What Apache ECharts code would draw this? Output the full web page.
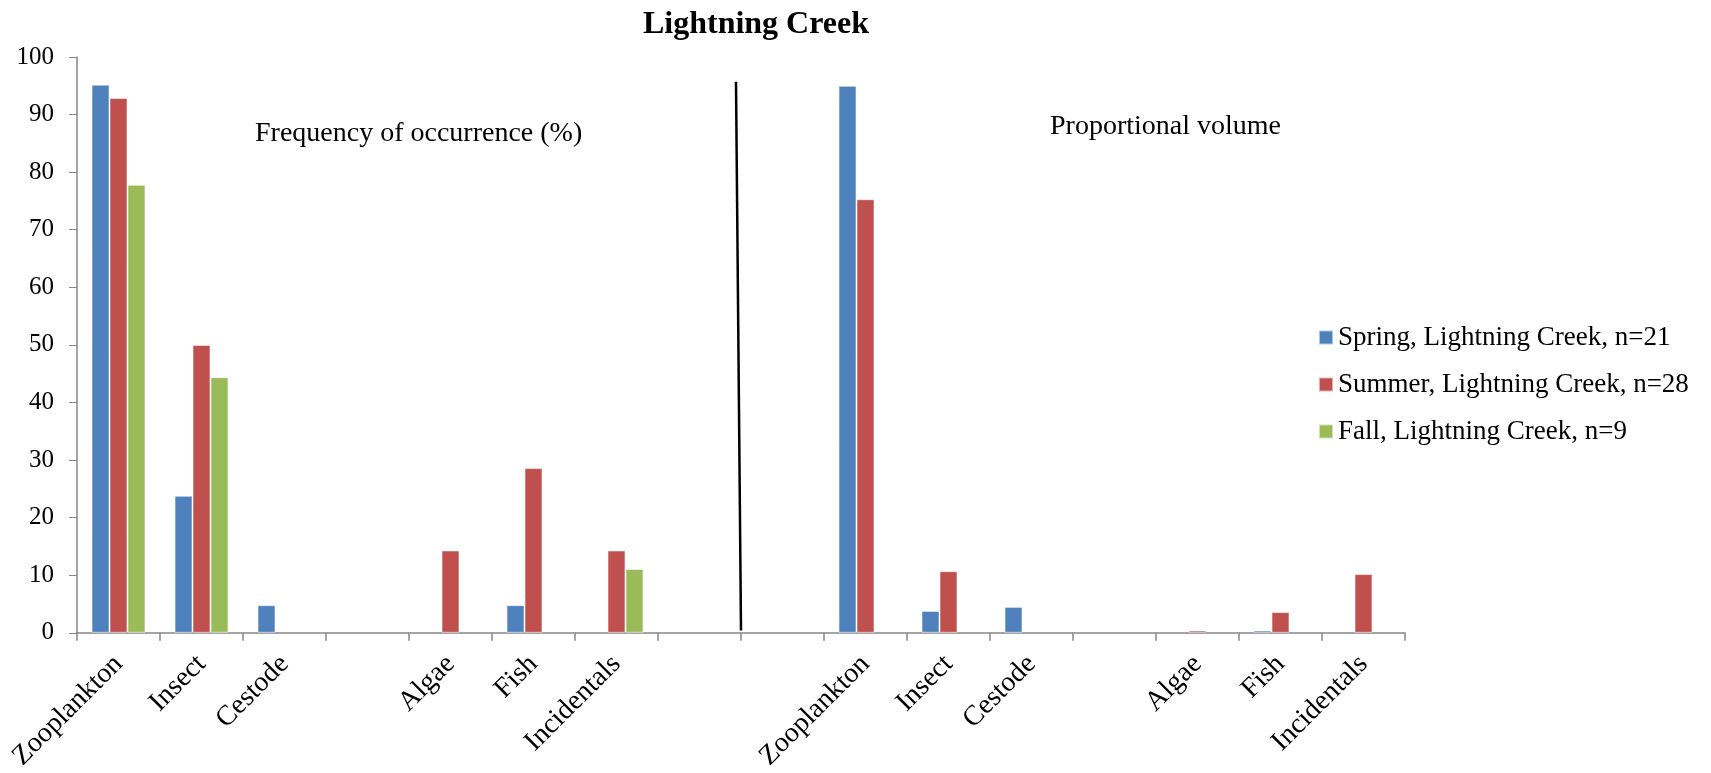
<!DOCTYPE html>
<html>
<head>
<meta charset="utf-8">
<title>Lightning Creek</title>
<script src="https://cdn.jsdelivr.net/npm/echarts@6/dist/echarts.min.js"></script>
<style>
  html, body { margin: 0; padding: 0; background: #fff; }
  #chart { width: 1711px; height: 773px; }
</style>
</head>
<body>
<div id="chart"></div>
<script>
// categories: left half = frequency of occurrence, right half = proportional volume
var categories = ['Zooplankton', 'Insect', 'Cestode', '', 'Algae', 'Fish', 'Incidentals', '', '',
  'Zooplankton', 'Insect', 'Cestode', '', 'Algae', 'Fish', 'Incidentals'];

var seriesNames = ['Spring, Lightning Creek, n=21', 'Summer, Lightning Creek, n=28', 'Fall, Lightning Creek, n=9'];

var springValues = [95.2, 23.8, 4.8, null, null, 4.8, null, null, null, 95.0, 3.8, 4.5, null, null, 0.4, null];
var summerValues = [92.9, 50.0, null, null, 14.3, 28.6, 14.3, null, null, 75.3, 10.7, null, null, 0.4, 3.6, 10.2];
var fallValues = [77.8, 44.4, null, null, null, null, 11.1, null, null, null, null, null, null, null, null, null];

var yTicks = [0, 10, 20, 30, 40, 50, 60, 70, 80, 90, 100];

var colors = ['#4F81BD', '#C0504D', '#9BBB59'];
var font = 'Liberation Serif';

var chart = echarts.init(document.getElementById('chart'));

function barSeries(name, data, color) {
  return {
    name: name,
    type: 'bar',
    data: data,
    barGap: '0%',
    barCategoryGap: '35%',
    itemStyle: { color: color, borderColor: 'rgba(255,255,255,0.55)', borderWidth: 1 }
  };
}

var option = {
  animation: false,
  backgroundColor: '#fff',
  title: {
    text: 'Lightning Creek',
    left: 751,
    top: 4,
    textAlign: 'center',
    textStyle: { fontFamily: font, fontWeight: 'bold', fontSize: 32, color: '#000' }
  },
  legend: {
    orient: 'vertical',
    left: 1313,
    top: 319,
    itemWidth: 14,
    itemHeight: 14,
    itemGap: 20,
    icon: 'rect',
    textStyle: { fontFamily: font, fontSize: 27, color: '#000' },
    data: seriesNames
  },
  grid: { left: 77, right: 306, top: 57, bottom: 139 },
  xAxis: {
    type: 'category',
    data: categories,
    axisLine: { lineStyle: { color: '#868686', width: 1.5 } },
    axisTick: { show: true, length: 8, interval: 0, lineStyle: { color: '#868686', width: 1.5 } },
    axisLabel: {
      interval: 0,
      rotate: 45,
      margin: 27,
      fontFamily: font,
      fontSize: 28,
      color: '#000'
    }
  },
  yAxis: {
    type: 'value',
    min: yTicks[0],
    max: yTicks[yTicks.length - 1],
    interval: 10,
    splitLine: { show: false },
    axisLine: { show: true, lineStyle: { color: '#868686', width: 1.5 } },
    axisTick: { show: true, length: 8, lineStyle: { color: '#868686' } },
    axisLabel: { fontFamily: font, fontSize: 25, color: '#000', margin: 23 }
  },
  series: [
    barSeries(seriesNames[0], springValues, colors[0]),
    barSeries(seriesNames[1], summerValues, colors[1]),
    barSeries(seriesNames[2], fallValues, colors[2])
  ]
};

chart.setOption(option);

// divider between the two halves and the panel captions
var xMid = (chart.convertToPixel({ xAxisIndex: 0 }, 7) + chart.convertToPixel({ xAxisIndex: 0 }, 8)) / 2;
var yTop = chart.convertToPixel({ yAxisIndex: 0 }, 95.7);
var yBot = chart.convertToPixel({ yAxisIndex: 0 }, 0.4);

chart.setOption({
  graphic: [
    {
      type: 'line',
      shape: { x1: xMid - 5, y1: yTop, x2: xMid, y2: yBot },
      style: { stroke: '#000', lineWidth: 2.5 }
    },
    {
      type: 'text',
      left: 255,
      top: 120,
      style: { text: 'Frequency of occurrence (%)', fontFamily: font, fontSize: 28, fill: '#000' }
    },
    {
      type: 'text',
      left: 1050,
      top: 113,
      style: { text: 'Proportional volume', fontFamily: font, fontSize: 28, fill: '#000' }
    }
  ]
});
</script>
</body>
</html>
